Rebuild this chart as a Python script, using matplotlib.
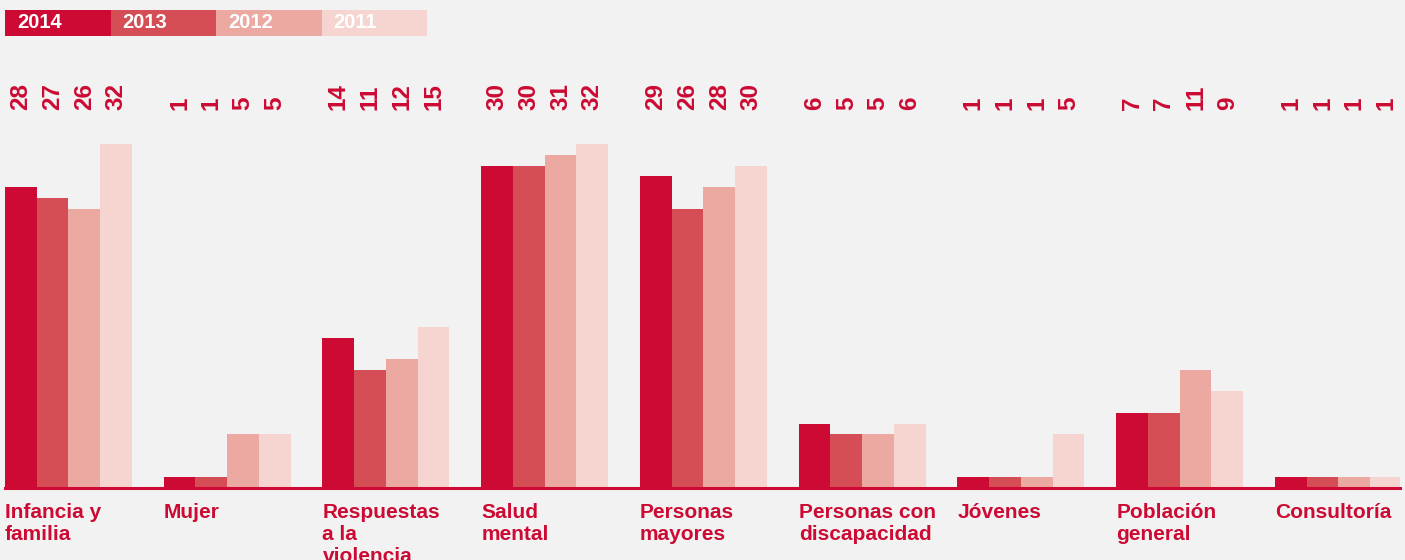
import matplotlib
matplotlib.use("Agg")
import matplotlib.pyplot as plt
from matplotlib.patches import Rectangle
from matplotlib.transforms import blended_transform_factory

# data
categories = ["Infancia y\nfamilia", "Mujer", "Respuestas\na la\nviolencia", "Salud\nmental",
              "Personas\nmayores", "Personas con\ndiscapacidad", "Jóvenes",
              "Población\ngeneral", "Consultoría"]
years = ["2014", "2013", "2012", "2011"]
v2014 = [28, 1, 14, 30, 29, 6, 1, 7, 1]
v2013 = [27, 1, 11, 30, 26, 5, 1, 7, 1]
v2012 = [26, 5, 12, 31, 28, 5, 1, 11, 1]
v2011 = [32, 5, 15, 32, 30, 6, 5, 9, 1]
series = [v2014, v2013, v2012, v2011]

colors = ["#CC0A33", "#D64E55", "#EBA9A1", "#F6D5D1"]
red = "#CC0A33"
bg = "#F2F2F2"

W, H = 1405, 560
plt.rcParams["font.family"] = ["Liberation Sans", "DejaVu Sans"]
plt.rcParams["font.weight"] = "bold"

fig = plt.figure(figsize=(W / 100, H / 100), dpi=100, facecolor=bg)
# baseline at y=488px, 10.75 px per unit
ax = fig.add_axes([5 / W, (H - 488) / H, 1395 / W, 430 / H])
ax.set_facecolor(bg)
ax.set_ylim(0, 40)
ax.set_xlim(-0.5, 43.44)
ax.axis("off")

group_step = 5
trans = blended_transform_factory(ax.transData, fig.transFigure)
for j, (vals, col) in enumerate(zip(series, colors)):
    xs = [i * group_step + j for i in range(len(categories))]
    ax.bar(xs, vals, width=1.0, color=col, linewidth=0)
    for x, v in zip(xs, vals):
        ax.text(x, (H - 110) / H, str(v), rotation=90, ha="center", va="bottom",
                color=red, fontsize=17.5, fontweight="bold", transform=trans)

ax.axhline(0, color=red, linewidth=2.2, clip_on=False)

# category labels below the baseline
for i, cat in enumerate(categories):
    ax.text(i * group_step - 0.5, (H - 503) / H, cat, ha="left", va="top",
            color=red, fontsize=15, fontweight="bold", linespacing=1.2,
            transform=trans)

# legend strip at top-left
lx, lw, ly, lh = 5, 105.5, 10, 26
for k, (yr, col) in enumerate(zip(years, colors)):
    x0 = lx + k * lw
    fig.add_artist(Rectangle((x0 / W, (H - ly - lh) / H), lw / W, lh / H,
                             transform=fig.transFigure, color=col, linewidth=0))
    fig.text((x0 + 12) / W, (H - ly - lh / 2) / H, yr, ha="left", va="center",
             color="white", fontsize=14.5, fontweight="bold")

fig.savefig("out.png", dpi=100, facecolor=bg)
